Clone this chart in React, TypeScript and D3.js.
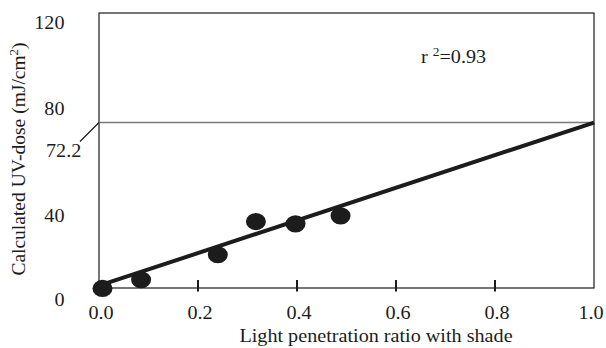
import React, { useEffect, useRef } from "react";
import * as d3 from "d3";

// light penetration ratio (x) vs calculated UV dose (y)
const ratios = [0.007, 0.085, 0.24, 0.317, 0.397, 0.488];
const doses = [-0.2, 3.6, 14.5, 29.0, 28.0, 31.5];

// regression line end points [ratio, dose]
const fitLine: [number, number][] = [
  [0.0, 1.0],
  [1.0, 72.2],
];
const fitLabel = "72.2";
const rSquared = "0.93";

const xTicks = [0.0, 0.2, 0.4, 0.6, 0.8, 1.0];
const yTicks = [0, 40, 80, 120];

const xTitle = "Light penetration ratio with shade";
const yTitle = "Calculated UV-dose (mJ/cm";

// the y tick labels sit a little off their values in the original
const yLabelDy: Record<number, number> = { 0: 18.4, 40: 25.5, 80: 10.2, 120: 16.3 };

const width = 606;
const height = 348;
const margin = { top: 13, right: 12, bottom: 60, left: 99 };
// the original figure is a little stretched sideways
const stretch = 1.12;

export default function App() {
  const ref = useRef<SVGSVGElement>(null);

  useEffect(() => {
    const svg = d3.select(ref.current);
    svg.selectAll("*").remove();

    const innerW = width - margin.left - margin.right;
    const innerH = height - margin.top - margin.bottom;

    const x = d3.scaleLinear().domain([0, 1]).range([margin.left, margin.left + innerW]);
    const y = d3.scaleLinear().domain([0, 120]).range([margin.top + innerH, margin.top]);

    const font = "'Liberation Serif', 'Times New Roman', serif";
    const ink = "#1c1c1c";

    const label = (g: any, tx: number, ty: number, anchor = "start") =>
      g.append("text")
        .attr("transform", `translate(${tx},${ty}) scale(${stretch},1)`)
        .attr("text-anchor", anchor)
        .attr("font-family", font)
        .attr("font-size", 18)
        .attr("fill", ink);

    // frame
    svg.append("rect")
      .attr("x", x(0))
      .attr("y", y(120))
      .attr("width", x(1) - x(0))
      .attr("height", y(0) - y(120))
      .attr("fill", "none")
      .attr("stroke", ink)
      .attr("stroke-width", 1.2);

    // horizontal reference at the fit's end value
    svg.append("line")
      .attr("x1", x(0))
      .attr("x2", x(1))
      .attr("y1", y(72.2))
      .attr("y2", y(72.2))
      .attr("stroke", "#7a7a7a")
      .attr("stroke-width", 1.4);

    // x ticks (inner ones only)
    svg.append("g")
      .selectAll("line")
      .data(xTicks.filter(d => d > 0 && d < 1))
      .join("line")
      .attr("x1", d => x(d))
      .attr("x2", d => x(d))
      .attr("y1", y(0) - 8)
      .attr("y2", y(0) + 3.5)
      .attr("stroke", ink)
      .attr("stroke-width", 2);

    const xg = svg.append("g");
    xTicks.forEach(d => {
      label(xg, Math.min(x(d) + 2, width - 15), y(0) + 30.5, "middle").text(d.toFixed(1));
    });

    const yg = svg.append("g");
    yTicks.forEach(d => {
      label(yg, 64.5, y(d) + yLabelDy[d], "end").text(d);
    });

    // 72.2 call-out
    svg.append("line")
      .attr("x1", 80)
      .attr("y1", y(72.2) + 19)
      .attr("x2", x(0))
      .attr("y2", y(72.2))
      .attr("stroke", ink)
      .attr("stroke-width", 1.2);

    label(svg, 46, y(72.2) + 34).text(fitLabel);

    // regression line
    svg.append("path")
      .datum(fitLine)
      .attr("d", d3.line<[number, number]>().x(d => x(d[0])).y(d => y(d[1])))
      .attr("stroke", ink)
      .attr("stroke-width", 4)
      .attr("fill", "none");

    // points
    svg.append("g")
      .selectAll("ellipse")
      .data(ratios.map((r, i) => ({ r, v: doses[i] })))
      .join("ellipse")
      .attr("cx", d => x(d.r))
      .attr("cy", d => y(d.v))
      .attr("rx", 10)
      .attr("ry", 8.6)
      .attr("fill", ink);

    // r²
    const rt = label(svg, 421, 63);
    rt.append("tspan").text("r ");
    rt.append("tspan").attr("font-size", 12).attr("dy", -7).text("2");
    rt.append("tspan").attr("dy", 7).text("=" + rSquared);

    // axis titles
    label(svg, 376, 341.5, "middle").text(xTitle);

    const yt = svg.append("text")
      .attr("transform", "translate(25,159) rotate(-90)")
      .attr("text-anchor", "middle")
      .attr("font-family", font)
      .attr("font-size", 19.5)
      .attr("fill", ink);
    yt.append("tspan").text(yTitle);
    yt.append("tspan").attr("font-size", 13).attr("dy", -7).text("2");
    yt.append("tspan").attr("dy", 7).text(")");
  }, []);

  return (
    <svg
      ref={ref}
      width={width}
      height={height}
      style={{ position: "absolute", left: 0, top: 0, background: "#fff" }}
    />
  );
}
